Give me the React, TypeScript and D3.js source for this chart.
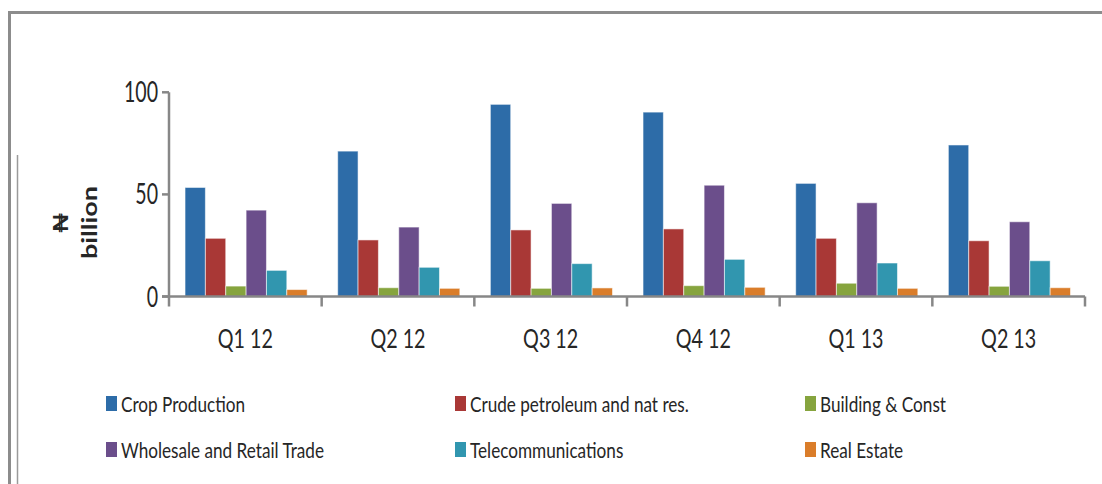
import React from "react";
import * as d3 from "d3";

const categories = ["Q1 12", "Q2 12", "Q3 12", "Q4 12", "Q1 13", "Q2 13"];
const seriesNames = [
  "Crop Production",
  "Crude petroleum and nat res.",
  "Building & Const",
  "Wholesale and Retail Trade",
  "Telecommunications",
  "Real Estate",
];
const seriesColors = ["#2D6CA8", "#A93836", "#86A43E", "#6B4E8B", "#3196AF", "#DA7D2A"];
const cropProduction = [53.4, 71.2, 94.1, 90.3, 55.4, 74.2];
const crudePetroleum = [28.5, 27.7, 32.6, 33.1, 28.5, 27.3];
const buildingConst = [5.1, 4.3, 4.0, 5.3, 6.5, 5.0];
const wholesaleRetail = [42.3, 34.0, 45.6, 54.5, 45.9, 36.6];
const telecommunications = [12.8, 14.3, 16.1, 18.2, 16.4, 17.5];
const realEstate = [3.4, 4.0, 4.2, 4.5, 4.0, 4.3];
const yTicks = [0, 50, 100];

const seriesValues = [cropProduction, crudePetroleum, buildingConst, wholesaleRetail, telecommunications, realEstate];

const FONT = "Lato, 'DejaVu Sans', sans-serif";
const AXIS = "#878787";
const TEXT = "#262626";

export default function App() {
  const W = 1102, H = 484;
  const x0 = 169, x1 = 1085;
  const yBase = 296.5, yTop = 92.3;

  const x = d3.scaleBand<string>().domain(categories).range([x0, x1]).padding(0);
  const bw = x.bandwidth();
  const inner = d3
    .scaleBand<string>()
    .domain(seriesNames)
    .range([bw * 0.105, bw * 0.905])
    .padding(0);
  const y = d3.scaleLinear().domain([0, 100]).range([yBase, yTop]);

  const legendCols = [106, 455, 805];
  const legendRows = [396, 442];

  return (
    <svg
      width={W}
      height={H}
      style={{ position: "absolute", left: 0, top: 0, display: "block", background: "#fff" }}
    >
      {/* frame */}
      <line x1={8} x2={W} y1={12.5} y2={12.5} stroke="#8c8c8c" strokeWidth={3} />
      <line x1={9.5} x2={9.5} y1={11} y2={H} stroke="#8c8c8c" strokeWidth={3} />
      <line x1={17.5} x2={17.5} y1={155} y2={H} stroke="#9a9a9a" strokeWidth={1.5} />

      {/* bars */}
      {categories.map((c, ci) => (
        <g key={c} transform={`translate(${x(c)},0)`}>
          {seriesNames.map((s, si) => {
            const v = seriesValues[si][ci];
            return (
              <rect
                key={s}
                x={inner(s)}
                y={y(v)}
                width={inner.bandwidth()}
                height={yBase - y(v)}
                fill={seriesColors[si]}
                stroke="#ffffff"
                strokeOpacity={0.55}
                strokeWidth={1}
              />
            );
          })}
        </g>
      ))}

      {/* y axis */}
      <line x1={x0} x2={x0} y1={yTop} y2={yBase} stroke={AXIS} strokeWidth={2.5} />
      {yTicks.map((t) => (
        <g key={t}>
          <line x1={162} x2={x0} y1={y(t)} y2={y(t)} stroke={AXIS} strokeWidth={2.5} />
          <text
            transform={`translate(158,${y(t) + 10}) scale(0.7,1)`}
            textAnchor="end"
            fontFamily={FONT}
            fontSize={28}
            fill={TEXT}
          >
            {t}
          </text>
        </g>
      ))}

      {/* x axis */}
      <line x1={162} x2={x1} y1={yBase} y2={yBase} stroke={AXIS} strokeWidth={2.5} />
      {[...categories.map((c) => x(c) as number), x1].map((px, i) => (
        <line key={i} x1={px} x2={px} y1={yBase} y2={yBase + 10} stroke={AXIS} strokeWidth={2.5} />
      ))}
      {categories.map((c) => (
        <text
          key={c}
          transform={`translate(${(x(c) as number) + bw / 2},348) scale(0.73,1)`}
          textAnchor="middle"
          fontFamily={FONT}
          fontSize={27}
          fill={TEXT}
        >
          {c}
        </text>
      ))}

      {/* y axis title */}
      <text
        transform={`translate(68,223) rotate(-90) scale(1,0.8)`}
        textAnchor="middle"
        fontFamily={FONT}
        fontWeight="bold"
        fontSize={26}
        fill={TEXT}
      >
        ₦
      </text>
      <text
        transform={`translate(97,222.5) rotate(-90) scale(1,0.8)`}
        textAnchor="middle"
        fontFamily={FONT}
        fontWeight="bold"
        fontSize={27}
        fill={TEXT}
      >
        billion
      </text>

      {/* legend */}
      {seriesNames.map((s, i) => {
        const lx = legendCols[i % 3];
        const ly = legendRows[Math.floor(i / 3)];
        return (
          <g key={s}>
            <rect x={lx} y={ly} width={11} height={15} fill={seriesColors[i]} />
            <text
              transform={`translate(${lx + 15},${ly + 15.5}) scale(0.78,1)`}
              fontFamily={FONT}
              fontSize={22}
              fill={TEXT}
            >
              {s}
            </text>
          </g>
        );
      })}
    </svg>
  );
}
